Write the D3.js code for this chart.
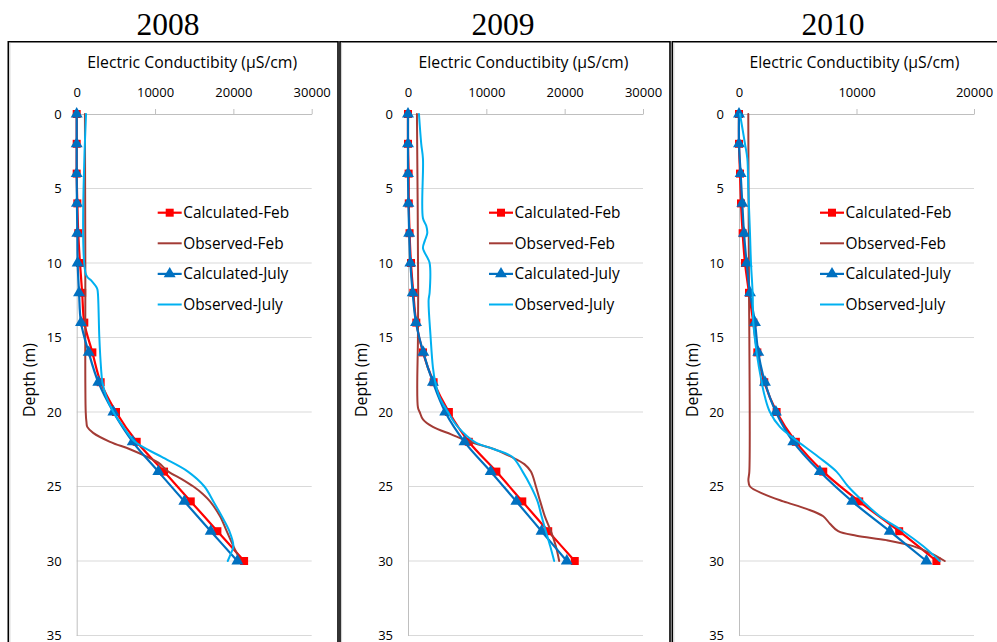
<!DOCTYPE html>
<html>
<head>
<meta charset="utf-8">
<script src="https://cdn.jsdelivr.net/npm/d3@7"></script>
<style>
  body { margin: 0; background: #fff; }
  svg { display: block; }
</style>
</head>
<body>
<svg id="chart" width="997" height="642"></svg>
<script>
// ---- data ----------------------------------------------------------------
const years = ["2008", "2009", "2010"];
const seriesNames = ["Calculated-Feb", "Observed-Feb", "Calculated-July", "Observed-July"];
const depthTicks = [0, 5, 10, 15, 20, 25, 30, 35];
const ecTicks2008 = [0, 10000, 20000, 30000];
const ecTicks2009 = [0, 10000, 20000, 30000];
const ecTicks2010 = [0, 10000, 20000];

// model output depths (m)
const calcDepths = [0, 2, 4, 6, 8, 10, 12, 14, 16, 18, 20, 22, 24, 26, 28, 30];

// 2008
const calcFeb2008 = [0, 0, 0, 80, 200, 420, 700, 970, 2000, 3060, 5020, 7660, 11150, 14560, 17960, 21370];
const calcJul2008 = [0, 0, 0, 30, 80, 120, 300, 550, 1530, 2760, 4680, 7150, 10420, 13740, 17110, 20510];
const obsFebDepth2008 = [0, 10, 20, 20.7, 21, 21.4, 22, 22.5, 23, 23.4, 24, 24.5, 25, 25.5, 26, 27, 28, 29, 30];
const obsFebEC2008 = [1050, 1100, 1150, 1250, 1350, 2100, 4250, 6800, 8940, 10420, 11700, 13400, 14900, 16100, 17020, 18300, 19150, 20000, 20940];
const obsJulDepth2008 = [0, 10.8, 11.2, 11.7, 12, 15, 17, 18, 19, 20, 21, 22, 23, 24, 25, 26, 27, 28, 29, 29.6, 30];
const obsJulEC2008 = [1190, 1200, 1900, 2600, 2700, 2890, 3100, 3280, 3800, 4680, 5950, 7450, 10800, 14200, 16300, 17450, 18520, 19490, 20000, 19600, 19280];

// 2009
const calcFeb2009 = [0, 0, 80, 100, 200, 380, 680, 1060, 1910, 3270, 5220, 7760, 11280, 14590, 17900, 21290];
const calcJul2009 = [0, 0, 0, 50, 150, 300, 600, 1020, 1950, 3180, 4750, 7210, 10560, 13830, 17050, 20270];
const obsFebDepth2009 = [0, 12, 15, 19.7, 20, 20.5, 21, 21.5, 22, 22.5, 23, 23.5, 24, 25, 26, 27, 28, 29, 30];
const obsFebEC2009 = [1140, 1300, 1270, 1270, 1490, 1910, 3180, 5510, 7900, 11030, 13140, 14850, 15690, 16330, 16880, 17470, 18240, 18870, 19300];
const obsJulDepth2009 = [0, 2, 3, 7, 7.5, 8, 8.5, 9, 9.7, 10, 12, 12.5, 15, 17, 18, 19, 20, 21, 22, 22.5, 23, 24, 25, 26, 27, 28, 29, 30];
const obsJulEC2009 = [1400, 1690, 1910, 1910, 2330, 2460, 2150, 1910, 2540, 2760, 2760, 2630, 2890, 3180, 3480, 4030, 5090, 6360, 8500, 11000, 13300, 14630, 15690, 16540, 17050, 17600, 18150, 18660];

// 2010
const calcFeb2010 = [0, 0, 85, 170, 310, 510, 850, 1220, 1560, 2150, 3200, 4840, 7170, 10230, 13630, 16800];
const calcJul2010 = [0, 0, 140, 280, 425, 650, 935, 1360, 1640, 2210, 3140, 4620, 6880, 9630, 12830, 15950];
const obsFebDepth2010 = [0, 12, 15, 24, 24.6, 25, 25.5, 26, 26.5, 27, 27.5, 28, 28.3, 28.6, 29, 29.5, 30];
const obsFebEC2010 = [790, 850, 880, 880, 800, 935, 2070, 3770, 5750, 7170, 7740, 8440, 10000, 12550, 14820, 16380, 17510];
const obsJulDepth2010 = [0, 2, 3, 5, 8, 10, 12, 14, 16, 18, 19, 20, 21, 22, 23, 24, 25, 26, 27, 28, 29, 30];
const obsJulEC2010 = [85, 510, 710, 790, 935, 1020, 1160, 1220, 1500, 1930, 2210, 2630, 3480, 5040, 6740, 8300, 9290, 10570, 11990, 13960, 15660, 17080];

// ---- panel assembly ------------------------------------------------------
const zip = (ds, vs) => ds.map((d, i) => ({ depth: d, ec: vs[i] }));

const panels = [
  { year: years[0], ecMax: 30000, ecTicks: ecTicks2008,
    calcFeb: zip(calcDepths, calcFeb2008), obsFeb: zip(obsFebDepth2008, obsFebEC2008),
    calcJul: zip(calcDepths, calcJul2008), obsJul: zip(obsJulDepth2008, obsJulEC2008) },
  { year: years[1], ecMax: 30000, ecTicks: ecTicks2009,
    calcFeb: zip(calcDepths, calcFeb2009), obsFeb: zip(obsFebDepth2009, obsFebEC2009),
    calcJul: zip(calcDepths, calcJul2009), obsJul: zip(obsJulDepth2009, obsJulEC2009) },
  { year: years[2], ecMax: 20000, ecTicks: ecTicks2010,
    calcFeb: zip(calcDepths, calcFeb2010), obsFeb: zip(obsFebDepth2010, obsFebEC2010),
    calcJul: zip(calcDepths, calcJul2010), obsJul: zip(obsJulDepth2010, obsJulEC2010) }
];

// ---- layout & style ------------------------------------------------------
const W = 997, H = 642;
const cellLeft = [8.3, 340, 672.3];
const cellRight = [338, 670, 1003];
const cellTop = 41.7;
const plotLeft = [76.7, 408, 739];
const plotW = 235;
const plotTop = 114, plotBottom = 635.5;
const yearCenter = [168, 503, 833];

const FONT = "'Open Sans', 'Noto Sans', sans-serif";
const colors = {
  calcFeb: "#FF0000",
  obsFeb: "#A33B35",
  calcJul: "#0070C0",
  obsJul: "#00B0F0"
};

const svg = d3.select("#chart");
svg.append("rect").attr("width", W).attr("height", H).attr("fill", "#fff");

// shrink/grow a text node's font size so that it spans the given width
function fitWidth(sel, target) {
  const node = sel.node();
  const fs = parseFloat(sel.attr("font-size"));
  const len = node.getComputedTextLength();
  if (len > 0) sel.attr("font-size", (fs * target / len).toFixed(2));
  return parseFloat(sel.attr("font-size"));
}

const sq = d3.symbol().type(d3.symbolSquare).size(64);
const tri = d3.symbol().type(d3.symbolTriangle).size(62);

panels.forEach((p, i) => {
  // table cell frame
  const cell = svg.append("g");
  cell.append("path")
    .attr("d", `M${cellLeft[i]},${H + 5}V${cellTop}H${cellRight[i]}V${H + 5}`)
    .attr("fill", "none").attr("stroke", "#000").attr("stroke-width", 1.6);
  cell.append("line")
    .attr("x1", cellLeft[i] + 1.6).attr("x2", cellLeft[i] + 1.6)
    .attr("y1", cellTop + 1).attr("y2", H)
    .attr("stroke", "#D0D0D0").attr("stroke-width", 1);

  // year heading
  svg.append("text")
    .attr("x", yearCenter[i]).attr("y", 35)
    .attr("text-anchor", "middle")
    .attr("font-family", "'Liberation Serif', 'Times New Roman', serif")
    .attr("font-size", 31.5).attr("fill", "#000")
    .text(p.year);

  const x = d3.scaleLinear().domain([0, p.ecMax]).range([plotLeft[i], plotLeft[i] + plotW]);
  const y = d3.scaleLinear().domain([0, 35]).range([plotTop, plotBottom]);

  const g = svg.append("g");

  // horizontal gridlines
  g.append("g").selectAll("line").data(depthTicks.slice(1)).join("line")
    .attr("x1", x(0)).attr("x2", x(p.ecMax))
    .attr("y1", d => y(d)).attr("y2", d => y(d))
    .attr("stroke", "#D9D9D9").attr("stroke-width", 1);

  // top (EC) axis
  const xAxis = g.append("g").attr("transform", `translate(0,${y(0)})`)
    .call(d3.axisTop(x).tickValues(p.ecTicks).tickSize(5).tickSizeOuter(0)
      .tickPadding(12).tickFormat(d3.format("d")));
  xAxis.select(".domain").attr("stroke", "#BFBFBF");
  xAxis.selectAll(".tick line").attr("stroke", "#BFBFBF");
  xAxis.selectAll(".tick text").attr("font-family", FONT).attr("font-size", 13).attr("fill", "#000");

  // left (depth) axis
  const yAxis = g.append("g").attr("transform", `translate(${x(0)},0)`)
    .call(d3.axisLeft(y).tickValues(depthTicks).tickSize(0).tickPadding(15));
  yAxis.select(".domain").attr("stroke", "#BFBFBF");
  yAxis.selectAll(".tick text").attr("font-family", FONT).attr("font-size", 13).attr("fill", "#000");

  // axis titles
  const xt = g.append("text")
    .attr("x", plotLeft[i] + plotW / 2 - 2).attr("y", 68)
    .attr("text-anchor", "middle").attr("font-family", FONT)
    .attr("font-size", 14).attr("fill", "#000")
    .text("Electric Conductibity (µS/cm)");
  fitWidth(xt, 210);

  const yt = g.append("text")
    .attr("transform", `translate(${plotLeft[i] - 41.5},380) rotate(-90)`)
    .attr("text-anchor", "middle").attr("font-family", FONT)
    .attr("font-size", 14).attr("fill", "#000")
    .text("Depth (m)");
  fitWidth(yt, 74);

  // series
  const line = d3.line().x(d => x(d.ec)).y(d => y(d.depth)).curve(d3.curveCatmullRom.alpha(0.5));

  const drawSeries = (data, color, width, symbol) => {
    g.append("path").datum(data)
      .attr("d", line).attr("fill", "none")
      .attr("stroke", color).attr("stroke-width", width)
      .attr("stroke-linejoin", "round").attr("stroke-linecap", "round");
    if (symbol) {
      g.append("g").selectAll("path").data(data).join("path")
        .attr("d", symbol)
        .attr("transform", d => `translate(${x(d.ec)},${y(d.depth)})`)
        .attr("fill", color);
    }
  };

  drawSeries(p.calcFeb, colors.calcFeb, 2.2, sq);
  drawSeries(p.obsFeb, colors.obsFeb, 2, null);
  drawSeries(p.calcJul, colors.calcJul, 2.2, tri);
  drawSeries(p.obsJul, colors.obsJul, 2, null);

  // legend
  const legendKeys = [
    { name: seriesNames[0], color: colors.calcFeb, sym: sq, w: 2.2 },
    { name: seriesNames[1], color: colors.obsFeb, sym: null, w: 2 },
    { name: seriesNames[2], color: colors.calcJul, sym: tri, w: 2.2 },
    { name: seriesNames[3], color: colors.obsJul, sym: null, w: 2 }
  ];
  const lx = plotLeft[i] + 81;
  const leg = g.append("g");
  let legSize = null;
  legendKeys.forEach((k, j) => {
    const ly = 212.7 + j * 30.6;
    leg.append("line")
      .attr("x1", lx).attr("x2", lx + 24).attr("y1", ly).attr("y2", ly)
      .attr("stroke", k.color).attr("stroke-width", k.w);
    if (k.sym) {
      leg.append("path").attr("d", k.sym)
        .attr("transform", `translate(${lx + 12},${ly})`).attr("fill", k.color);
    }
    const t = leg.append("text")
      .attr("x", lx + 25.5).attr("y", ly).attr("dy", "0.35em")
      .attr("font-family", FONT).attr("font-size", legSize || 14).attr("fill", "#000")
      .text(k.name);
    if (j === 0) legSize = fitWidth(t, 106);
  });
});
</script>
</body>
</html>
